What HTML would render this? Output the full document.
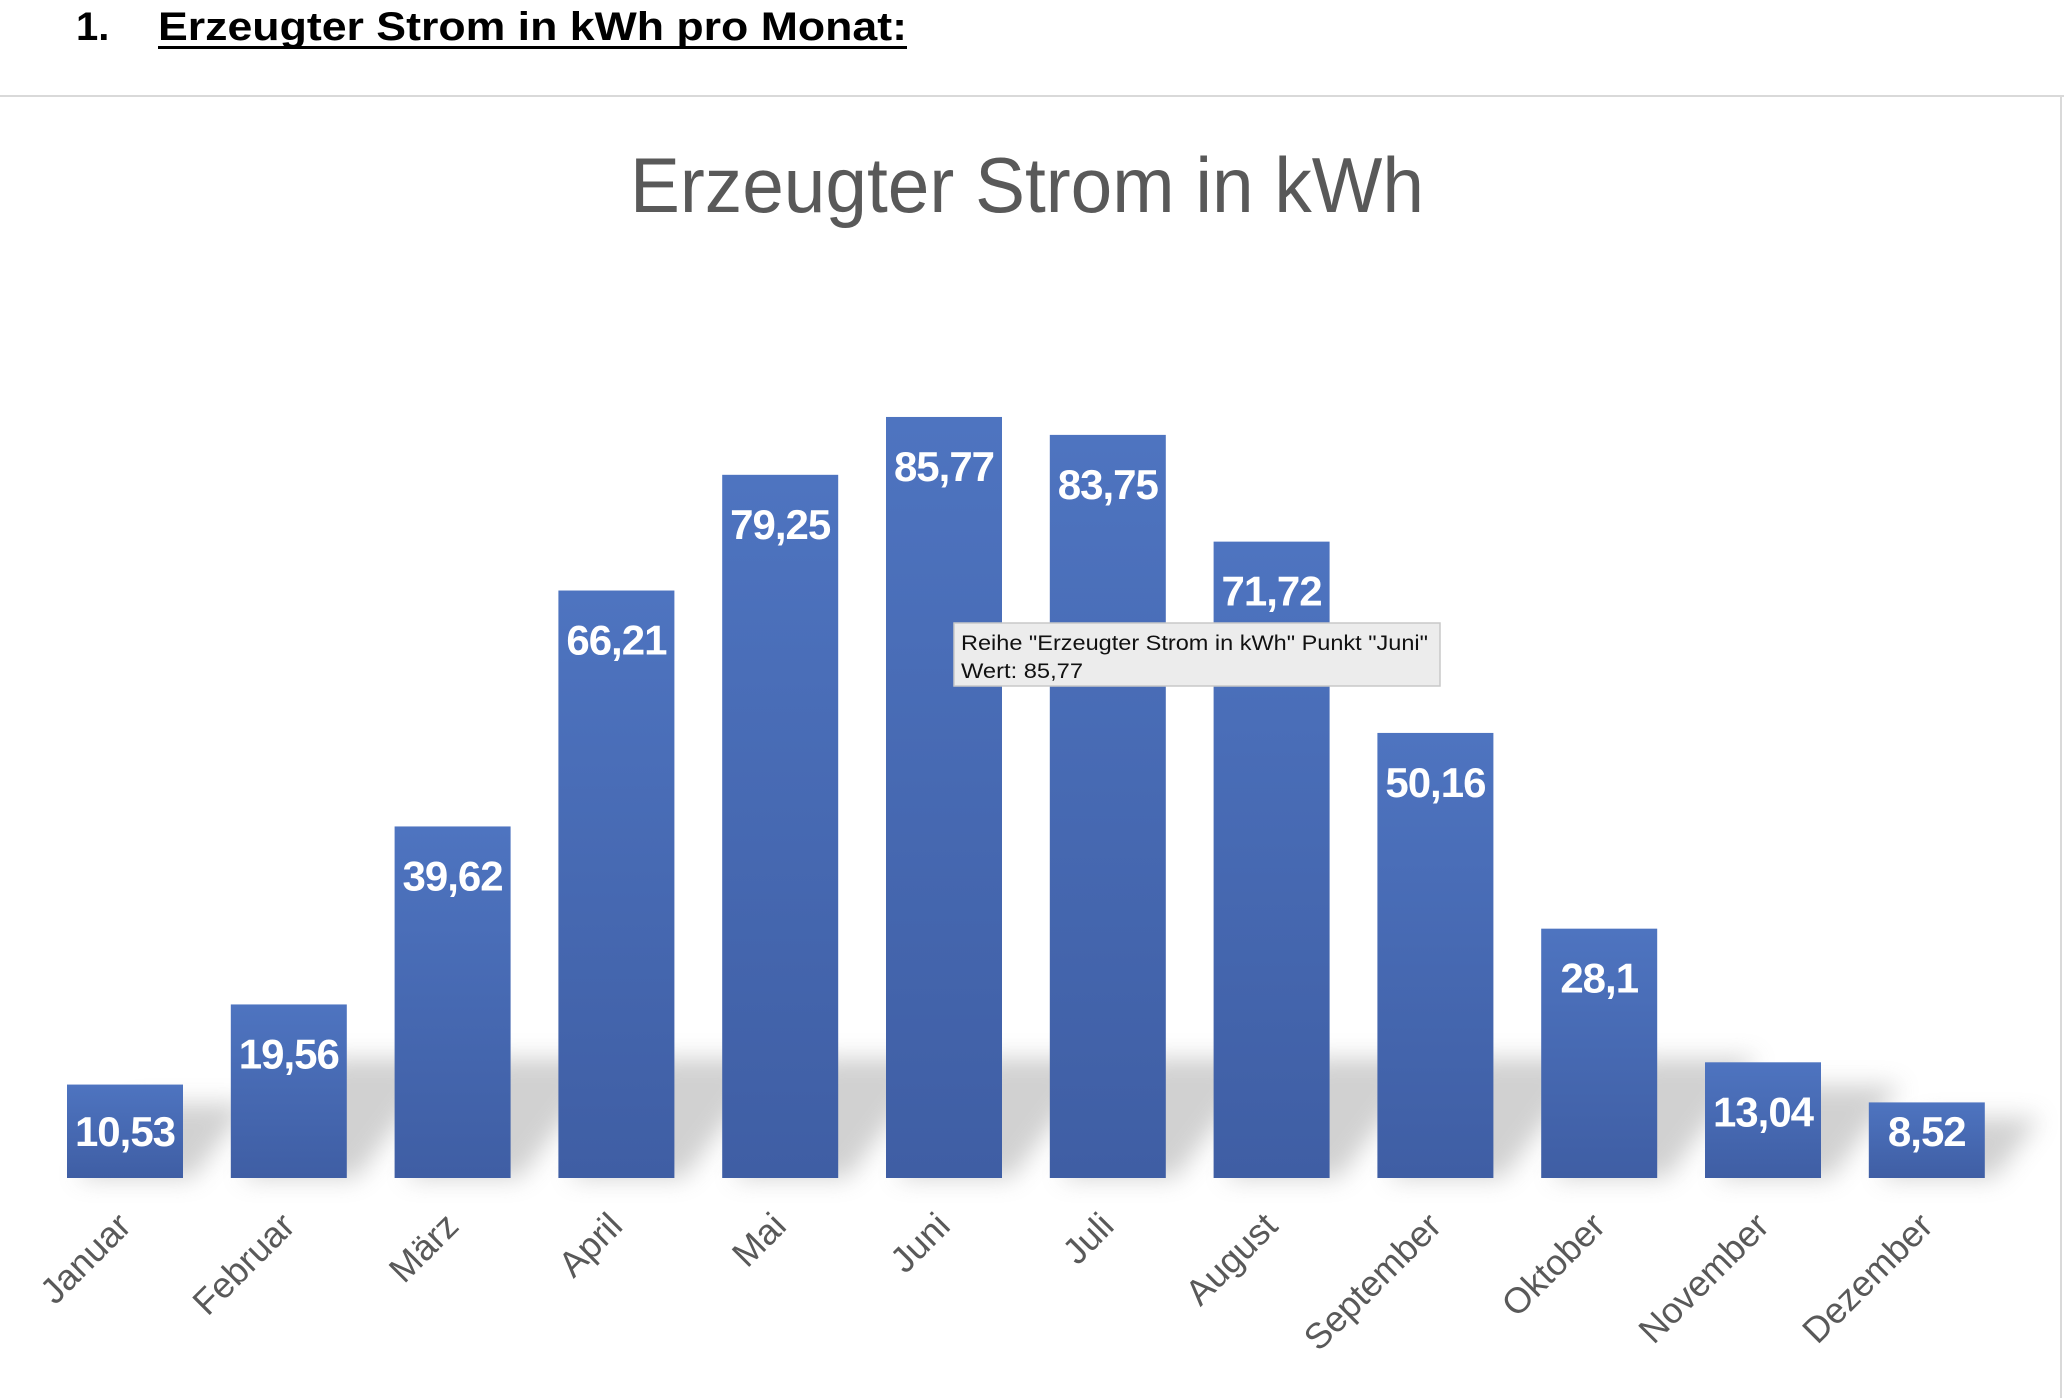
<!DOCTYPE html>
<html><head><meta charset="utf-8"><style>
html,body{margin:0;padding:0;background:#fff;width:2064px;height:1398px;overflow:hidden}
svg{display:block}
</style></head><body>
<svg id="chart" width="2064" height="1398" viewBox="0 0 2064 1398">
<defs>
<linearGradient id="barg" x1="0" y1="0" x2="0" y2="1"><stop offset="0" stop-color="#4e74c0"/><stop offset="1" stop-color="#3f5ea4"/></linearGradient>
<filter id="blur" x="-50%" y="-50%" width="200%" height="200%"><feGaussianBlur stdDeviation="12"/></filter>
</defs>
<text x="76" y="40" font-family="Liberation Sans, sans-serif" font-weight="bold" font-size="40" fill="#000">1.</text>
<text x="158" y="40" textLength="749" lengthAdjust="spacingAndGlyphs" font-family="Liberation Sans, sans-serif" font-weight="bold" font-size="40" fill="#000">Erzeugter Strom in kWh pro Monat:</text>
<rect x="158" y="46" width="749" height="3" fill="#000"/>
<rect x="0" y="95" width="2064" height="2" fill="#d9d9d9"/>
<rect x="2060" y="95" width="2" height="1303" fill="#d9d9d9"/>
<text x="1027" y="212" text-anchor="middle" textLength="794" lengthAdjust="spacingAndGlyphs" font-family="Liberation Sans, sans-serif" font-size="78" fill="#595959">Erzeugter Strom in kWh</text>
<g id="shadows"></g>
<g id="bars"></g>
<g id="xlabels"></g>
<g>
<rect x="954" y="623" width="486" height="63" fill="#ececec" stroke="#c8c8c8" stroke-width="1.5"/>
<text x="961" y="650" textLength="467" lengthAdjust="spacingAndGlyphs" font-family="Liberation Sans, sans-serif" font-size="21" fill="#111">Reihe "Erzeugter Strom in kWh" Punkt "Juni"</text>
<text x="961" y="678" textLength="122" lengthAdjust="spacingAndGlyphs" font-family="Liberation Sans, sans-serif" font-size="21" fill="#111">Wert: 85,77</text>
</g>
</svg>
<script>
const categories = ["Januar","Februar","März","April","Mai","Juni","Juli","August","September","Oktober","November","Dezember"];
const values = [10.53,19.56,39.62,66.21,79.25,85.77,83.75,71.72,50.16,28.1,13.04,8.52];
const valueLabels = ["10,53","19,56","39,62","66,21","79,25","85,77","83,75","71,72","50,16","28,1","13,04","8,52"];

const NS = "http://www.w3.org/2000/svg";
const baseY = 1178, pxPerUnit = 8.873, firstLeft = 67, pitch = 163.8, barW = 116;
function xLeft(i){ return firstLeft + i * pitch; }
function yVal(v){ return baseY - v * pxPerUnit; }
function mk(tag, attrs){ const e = document.createElementNS(NS, tag); for (const k in attrs) e.setAttribute(k, attrs[k]); return e; }

const gS = document.getElementById("shadows"), gB = document.getElementById("bars"), gX = document.getElementById("xlabels");
values.forEach((v, i) => {
  const x = xLeft(i), y = yVal(v), h = baseY - y;
  const sh = Math.min(h, 150);
  const s = mk("polygon", {points: `${x+10},${baseY} ${x+barW+10},${baseY} ${x+barW+10+sh*0.6},${baseY-sh*0.8} ${x+10+sh*0.6},${baseY-sh*0.8}`, fill: "#9a9a9a", opacity: "0.45", filter: "url(#blur)"});
  
  
  gS.appendChild(s);
  const r = mk("rect", {x: x, y: y, width: barW, height: h, fill: "url(#barg)"});
  
  
  gB.appendChild(r);
  const ty = Math.min(y + 64, baseY - 32);
  const t = mk("text", {x: x + barW/2, y: ty, "text-anchor": "middle", "font-family": "Liberation Sans, sans-serif", "font-weight": "bold", "font-size": "42", fill: "#fff", "letter-spacing": "-1"});
  t.textContent = valueLabels[i];
  
  
  gB.appendChild(t);
  const cx = x + barW/2 + 8, ly = 1228;
  const l = mk("text", {x: cx, y: ly, "text-anchor": "end", "font-family": "Liberation Sans, sans-serif", "font-size": "36", fill: "#595959", transform: `rotate(-45 ${cx} ${ly})`});
  l.textContent = categories[i];
  
  
  gX.appendChild(l);
});
</script>
</body></html>
